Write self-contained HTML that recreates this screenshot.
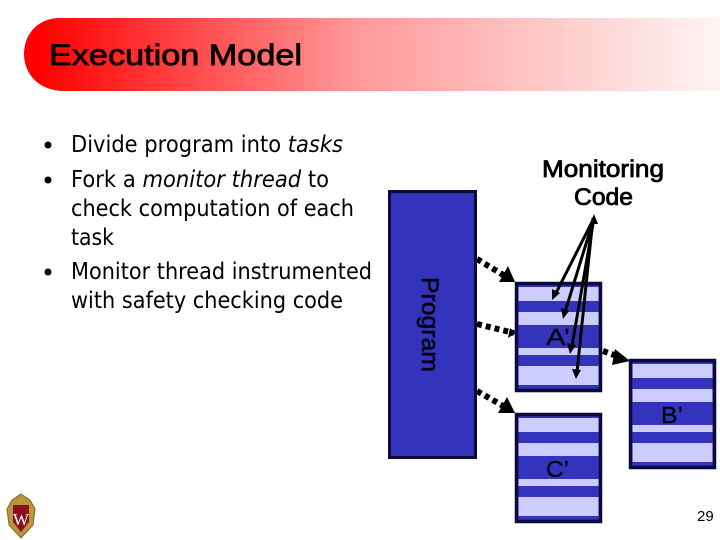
<!DOCTYPE html>
<html><head><meta charset="utf-8"><style>
html,body{margin:0;padding:0;background:#fff;width:720px;height:540px;overflow:hidden}
svg{display:block}
.b{font-family:"DejaVu Sans",sans-serif;font-size:23px;fill:#000}
.a{font-family:"Liberation Sans",sans-serif;fill:#000}
</style></head><body>
<svg width="720" height="540" viewBox="0 0 720 540" xmlns="http://www.w3.org/2000/svg">
<defs>
<linearGradient id="g" gradientUnits="userSpaceOnUse" x1="40" y1="0" x2="720" y2="0">
<stop offset="0" stop-color="#ff0000"/><stop offset=".47" stop-color="#ff9a9a"/><stop offset="1" stop-color="#fff4f4"/>
</linearGradient>
<g id="box">
<rect x="1.5" y="1.5" width="84" height="107" fill="#3333bb" stroke="#0a0a3c" stroke-width="3.5"/>
<rect x="3.5" y="5" width="80" height="14" fill="#ccccff"/>
<rect x="3.5" y="30" width="80" height="13" fill="#ccccff"/>
<rect x="3.5" y="66" width="80" height="7" fill="#ccccff"/>
<rect x="3.5" y="84" width="80" height="19" fill="#ccccff"/>
</g>
</defs>
<path d="M720 18H60C38 18 24 34 24 54C24 75 40 91 64 91H720Z" fill="url(#g)"/>
<text x="49" y="65" class="a" font-size="30" textLength="253" lengthAdjust="spacingAndGlyphs" fill="#1a0505" stroke="#1a0505" stroke-width=".9">Execution Model</text>

<circle cx="48" cy="145" r="3.5" fill="#000"/>
<circle cx="48" cy="180" r="3.5" fill="#000"/>
<circle cx="48" cy="272" r="3.5" fill="#000"/>
<text x="71" y="152" class="b" textLength="272" lengthAdjust="spacingAndGlyphs">Divide program into <tspan font-style="italic">tasks</tspan></text>
<text x="71" y="187" class="b" textLength="258" lengthAdjust="spacingAndGlyphs">Fork a <tspan font-style="italic">monitor thread</tspan> to</text>
<text x="71" y="216" class="b" textLength="283" lengthAdjust="spacingAndGlyphs">check computation of each</text>
<text x="71" y="245" class="b" textLength="43" lengthAdjust="spacingAndGlyphs">task</text>
<text x="71" y="279" class="b" textLength="301" lengthAdjust="spacingAndGlyphs">Monitor thread instrumented</text>
<text x="71" y="308" class="b" textLength="272" lengthAdjust="spacingAndGlyphs">with safety checking code</text>

<text x="542" y="177" class="a" font-size="24" textLength="122" lengthAdjust="spacingAndGlyphs" stroke="#000" stroke-width=".8">Monitoring</text>
<text x="574" y="205" class="a" font-size="24" textLength="59" lengthAdjust="spacingAndGlyphs" stroke="#000" stroke-width=".8">Code</text>

<g stroke="#000" stroke-width="6" stroke-dasharray="5 4" fill="none">
<path d="M477 259L505 276"/>
<path d="M477 324L514 333"/>
<path d="M477 391L505 407"/>
<path d="M603 351L620 357"/>
</g>
<g fill="#000">
<path d="M515 282L499 282L508 266Z"/>
<path d="M516 333L508 338L510 328Z"/>
<path d="M515 413L498 413L507 397Z"/>
<path d="M630 361L612 365L615 349Z"/>
</g>

<rect x="389.5" y="191.5" width="86" height="266" fill="#3333bb" stroke="#0a0a3c" stroke-width="3"/>
<text transform="translate(422 277) rotate(90)" class="a" font-size="24" textLength="95" lengthAdjust="spacingAndGlyphs" fill="#0a0a3c" stroke="#0a0a3c" stroke-width=".8">Program</text>

<use href="#box" x="515" y="282"/>
<use href="#box" x="629" y="359"/>
<use href="#box" x="515" y="413"/>

<text x="546" y="345" class="a" font-size="23" textLength="24" lengthAdjust="spacingAndGlyphs" stroke="#0a0a3c" stroke-width=".4" fill="#0a0a3c">A’</text>
<text x="661" y="423" class="a" font-size="23" textLength="22" lengthAdjust="spacingAndGlyphs" stroke="#0a0a3c" stroke-width=".4" fill="#0a0a3c">B’</text>
<text x="546" y="477" class="a" font-size="23" textLength="23" lengthAdjust="spacingAndGlyphs" stroke="#0a0a3c" stroke-width=".4" fill="#0a0a3c">C’</text>

<g stroke="#000" fill="none" stroke-width="3">
<path d="M594 218L556 293"/>
<path d="M594 218L565 312"/>
<path d="M594 218L572 346"/>
<path d="M593 218L577 372"/>
</g>
<g fill="#000">
<path d="M552 300L552 289L560 293Z"/>
<path d="M563 319L561 308L569 311Z"/>
<path d="M570 354L567 343L576 345Z"/>
<path d="M576 379L572 369L581 370Z"/>
<path d="M594 214L590 224L598 224Z"/>
</g>

<g>
<path d="M21 494L30 500L35 509L33 525L21 538L9 525L7 509L12 500Z" fill="#b8963a" stroke="#7a6a30" stroke-width="1"/>
<path d="M13 505H29V522L21 532L13 522Z" fill="#8a1020"/>
<text x="21" y="525" text-anchor="middle" font-family="Liberation Serif,serif" font-size="17" fill="#fff">W</text>
</g>
<text x="697" y="521" class="a" font-size="15" fill="#222">29</text>
</svg>
</body></html>
